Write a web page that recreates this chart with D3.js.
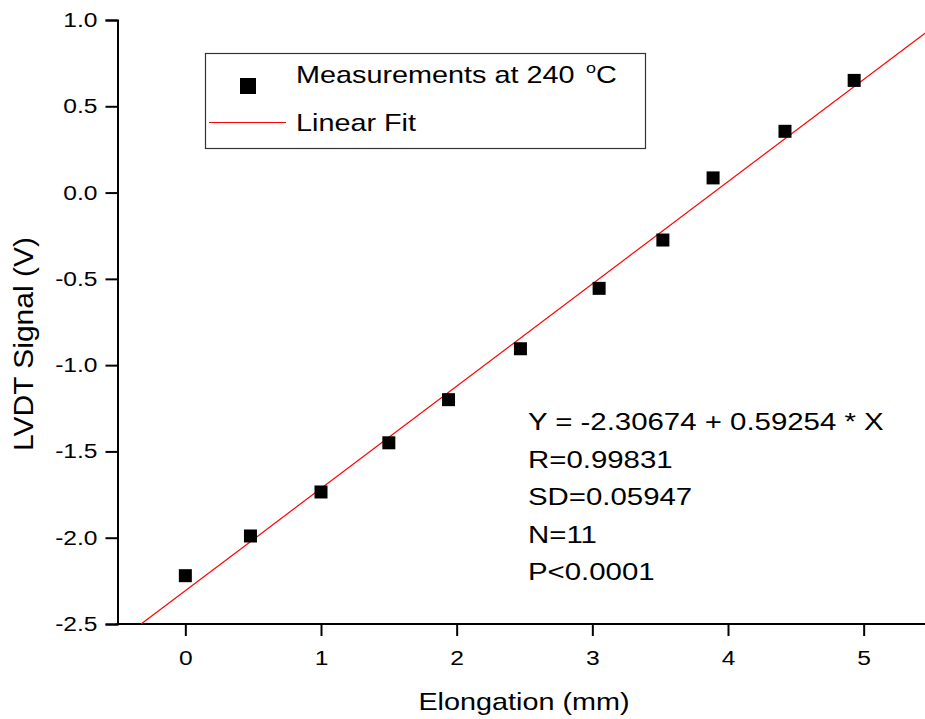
<!DOCTYPE html>
<html>
<head>
<meta charset="utf-8">
<script src="https://cdn.jsdelivr.net/npm/d3@7"></script>
<style>
  body { margin: 0; background: #fff; }
  svg text { font-family: "Liberation Sans", Arial, sans-serif; fill: #000; }
</style>
</head>
<body>
<svg id="chart" width="925" height="719"></svg>
<script>
// 数据
const elongation = [0, 0.48, 1.0, 1.5, 1.94, 2.47, 3.05, 3.52, 3.89, 4.42, 4.93];
const signal = [-2.22, -1.99, -1.735, -1.45, -1.20, -0.905, -0.555, -0.275, 0.085, 0.355, 0.65];
const fitIntercept = -2.30674;
const fitSlope = 0.59254;
const xTicks = [0, 1, 2, 3, 4, 5];
const yTicks = [-2.5, -2.0, -1.5, -1.0, -0.5, 0.0, 0.5, 1.0];
const statsLines = ["Y = -2.30674 + 0.59254 * X", "R=0.99831", "SD=0.05947", "N=11", "P<0.0001"];
const legendLabels = ["Measurements at 240 ", "Linear Fit"];

const svg = d3.select("#chart");
const SX = 1.2; // 文字横向拉伸

const x = d3.scaleLinear().domain([-0.5, 5.5]).range([117.5, 931.5]);
const y = d3.scaleLinear().domain([-2.5, 1.0]).range([624, 20]);

// 用普通连字符作负号
const fmt1 = d => d3.format(".1f")(d).replace("\u2212", "-");

// 坐标轴
const gx = svg.append("g").attr("transform", `translate(0,${y(-2.5)})`);
gx.call(d3.axisBottom(x).tickValues(d3.range(-0.5, 5.51, 0.5)).tickSize(7).tickFormat(""));
gx.call(d3.axisBottom(x).tickValues(xTicks).tickSize(12).tickPadding(14).tickFormat(d3.format("d")));
gx.selectAll(".domain").attr("d", `M${x(-0.5) - 1},0H925`);

const gy = svg.append("g").attr("transform", `translate(${x(-0.5)},0)`);
gy.call(d3.axisLeft(y).tickValues(d3.range(-2.5, 1.01, 0.25)).tickSize(6).tickFormat(""));
gy.call(d3.axisLeft(y).tickValues(yTicks).tickSize(12).tickPadding(8).tickFormat(fmt1));

svg.selectAll(".domain").attr("stroke-width", 2).attr("stroke", "#000");
svg.selectAll(".tick line").attr("stroke-width", 2).attr("stroke", "#000");
svg.selectAll(".tick text")
    .attr("font-size", 20.5)
    .attr("font-family", "Liberation Sans, Arial, sans-serif")
    .attr("fill", "#000");
gx.selectAll(".tick text").attr("transform", `scale(${SX},1)`);
gy.selectAll(".tick text").attr("x", -20 / SX).attr("transform", `scale(${SX},1)`);

// 文字（横向拉伸）
function addText(px, py, size, str, anchor) {
    return svg.append("text")
        .attr("transform", `translate(${px},${py}) scale(${SX},1)`)
        .attr("font-size", size)
        .attr("text-anchor", anchor || "start")
        .text(str);
}

addText(524, 710, 24, "Elongation (mm)", "middle");

svg.append("text")
    .attr("transform", `translate(33,344) rotate(-90) scale(${SX},1.08)`)
    .attr("font-size", 25)
    .attr("text-anchor", "middle")
    .text("LVDT Signal (V)");

// 拟合线
const x0 = Math.max(-0.5, (-2.5 - fitIntercept) / fitSlope);
const x1 = 5.5;
svg.append("line")
    .attr("x1", x(x0)).attr("y1", y(fitIntercept + fitSlope * x0))
    .attr("x2", x(x1)).attr("y2", y(fitIntercept + fitSlope * x1))
    .attr("stroke", "#ff0000")
    .attr("stroke-width", 1.2);

// 测量点
const pts = d3.zip(elongation, signal);
svg.append("g").selectAll("rect")
    .data(pts)
    .enter()
    .append("rect")
    .attr("x", d => x(d[0]) - 6.5)
    .attr("y", d => y(d[1]) - 6.5)
    .attr("width", 13)
    .attr("height", 13)
    .attr("fill", "#000");

// 图例
svg.append("rect")
    .attr("x", 205.5).attr("y", 53.5)
    .attr("width", 440).attr("height", 95)
    .attr("fill", "none")
    .attr("stroke", "#333")
    .attr("stroke-width", 1.2);
svg.append("rect")
    .attr("x", 240).attr("y", 78).attr("width", 16).attr("height", 16)
    .attr("fill", "#000");
svg.append("line")
    .attr("x1", 209).attr("x2", 286).attr("y1", 122.5).attr("y2", 122.5)
    .attr("stroke", "#ff0000").attr("stroke-width", 1);

const leg1 = addText(296, 83, 24, legendLabels[0]);
leg1.append("tspan").attr("font-size", 15).attr("dx", 3).attr("dy", -10).text("o");
leg1.append("tspan").attr("dy", 10).text("C");
addText(296, 131, 24, legendLabels[1]);

// 统计结果
statsLines.forEach((s, i) => {
    addText(528, 430 + i * 37.5, 24.5, s);
});
</script>
</body>
</html>
